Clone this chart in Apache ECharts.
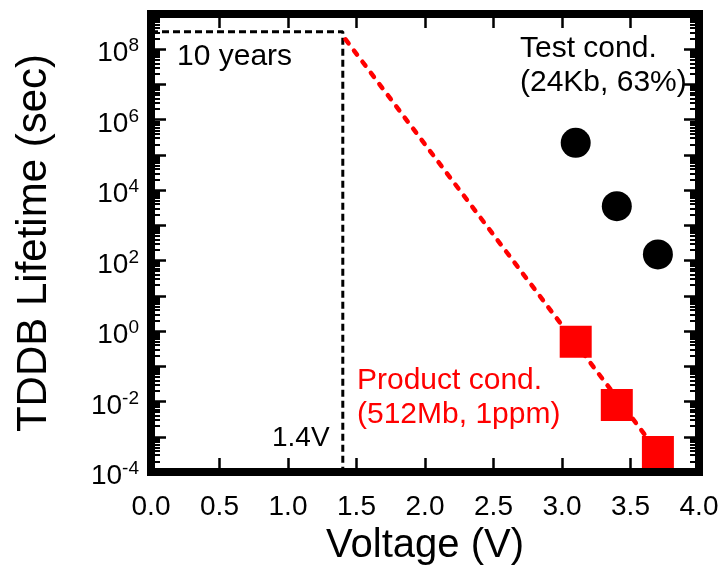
<!DOCTYPE html>
<html>
<head>
<meta charset="utf-8">
<script src="https://cdn.jsdelivr.net/npm/echarts@6/dist/echarts.min.js"></script>
<style>
  html, body { margin: 0; padding: 0; background: #fff; }
  #chart { width: 724px; height: 567px; }
</style>
</head>
<body>
<div id="chart"></div>
<script>
// TDDB lifetime of the test structure (63 % of 24 Kb) and of the product (1 ppm of 512 Mb)
const testVoltage = [3.1, 3.4, 3.7];
const testLifetime = [2.2e5, 3.5e3, 1.5e2];
const productVoltage = [3.1, 3.4, 3.7];
const productLifetime = [0.5, 8e-3, 3.7e-4];

// extrapolation of the product lifetime down to the operating voltage
const fitVoltage = [1.42, 3.7];
const fitLifetime = [1.9e8, 3.7e-4];

// 10-year requirement at the 1.4 V operating voltage
const targetVoltage = 1.4;
const targetLifetime = 3.15e8; // seconds in 10 years

// axis ranges
const xMin = 0, xMax = 4, xStep = 0.5;
const yMin = 1e-4, yMax = 1e9;

const FONT = "'Liberation Sans', Arial, Helvetica, sans-serif";
const RED = '#ff0000';

const chart = echarts.init(document.getElementById('chart'), null, { renderer: 'canvas' });

const tickStyle = { width: 2.5, color: '#000' };

// every second decade gets a 10^n label
function yLabel(v) {
  const e = Math.round(Math.log10(v));
  return e % 2 === 0 ? '{b|10}{s|' + e + '}' : '';
}

function logAxis(position, withLabels) {
  return {
    type: 'log', logBase: 10, min: yMin, max: yMax, interval: 1, position: position,
    axisLine: { show: false, onZero: false },
    axisTick: { inside: true, length: 15, lineStyle: tickStyle },
    minorTick: { show: true, splitNumber: 9, length: 9, lineStyle: { width: 2, color: '#000' } },
    splitLine: { show: false },
    minorSplitLine: { show: false },
    axisLabel: withLabels ? {
      margin: 12, color: '#000', fontFamily: FONT, fontSize: 28,
      padding: [9, 0, 0, 0],
      formatter: yLabel,
      rich: {
        b: { fontSize: 28, lineHeight: 34, fontFamily: FONT, color: '#000' },
        s: { fontSize: 19, lineHeight: 19, verticalAlign: 'top', fontFamily: FONT, color: '#000' }
      }
    } : { show: false }
  };
}

function linearAxis(position, withLabels) {
  const axis = {
    type: 'value', min: xMin, max: xMax, interval: xStep, position: position,
    axisLine: { show: false, onZero: false },
    axisTick: { inside: true, length: 14, lineStyle: tickStyle },
    splitLine: { show: false },
    axisLabel: { show: false }
  };
  if (withLabels) {
    axis.axisLabel = {
      margin: 21, fontSize: 28, color: '#000', fontFamily: FONT,
      formatter: v => v.toFixed(1)
    };
    axis.name = 'Voltage (V)';
    axis.nameLocation = 'middle';
    axis.nameGap = 37;
    axis.nameTextStyle = { fontSize: 40, color: '#000', fontFamily: FONT };
  }
  return axis;
}

const yLeft = logAxis('left', true);
yLeft.name = 'TDDB Lifetime (sec)';
yLeft.nameLocation = 'middle';
yLeft.nameGap = 96;
yLeft.nameTextStyle = { fontSize: 42, color: '#000', fontFamily: FONT };

const option = {
  animation: false,
  backgroundColor: '#fff',
  grid: {
    left: 151, top: 14, right: 25, bottom: 95,
    containLabel: false, outerBoundsMode: 'none',
    show: true, borderColor: '#000', borderWidth: 8, backgroundColor: 'transparent'
  },
  xAxis: [linearAxis('bottom', true), linearAxis('top', false)],
  yAxis: [yLeft, logAxis('right', false)],
  series: [
    {
      name: '10 years', type: 'line', symbol: 'none', silent: true, z: 2,
      data: [[xMin, targetLifetime], [targetVoltage, targetLifetime], [targetVoltage, yMin]],
      lineStyle: { color: '#000', width: 3, type: [7, 4] }
    },
    {
      name: 'Extrapolation', type: 'line', symbol: 'none', silent: true, z: 3,
      data: fitVoltage.map((v, i) => [v, fitLifetime[i]]),
      lineStyle: { color: RED, width: 4.5, type: [5, 9], cap: 'round' }
    },
    {
      name: 'Test cond.', type: 'scatter', symbol: 'circle', symbolSize: 30, z: 4,
      data: testVoltage.map((v, i) => [v, testLifetime[i]]),
      itemStyle: { color: '#000', opacity: 1 }
    },
    {
      name: 'Product cond.', type: 'scatter', symbol: 'rect', symbolSize: 32, z: 4,
      data: productVoltage.map((v, i) => [v, productLifetime[i]]),
      itemStyle: { color: RED, opacity: 1 }
    }
  ],
  graphic: [
    { type: 'text', x: 177, y: 57, style: { text: '10 years', font: '30px ' + FONT, fill: '#000', verticalAlign: 'middle' } },
    { type: 'text', x: 520, y: 49, style: { text: 'Test cond.', font: '30px ' + FONT, fill: '#000', verticalAlign: 'middle' } },
    { type: 'text', x: 520, y: 83, style: { text: '(24Kb, 63%)', font: '30px ' + FONT, fill: '#000', verticalAlign: 'middle' } },
    { type: 'text', x: 357, y: 381, style: { text: 'Product cond.', font: '30px ' + FONT, fill: RED, verticalAlign: 'middle' } },
    { type: 'text', x: 357, y: 415, style: { text: '(512Mb, 1ppm)', font: '30px ' + FONT, fill: RED, verticalAlign: 'middle' } },
    { type: 'text', x: 272, y: 438, style: { text: '1.4V', font: '28px ' + FONT, fill: '#000', verticalAlign: 'middle' } }
  ]
};

chart.setOption(option);
</script>
</body>
</html>
